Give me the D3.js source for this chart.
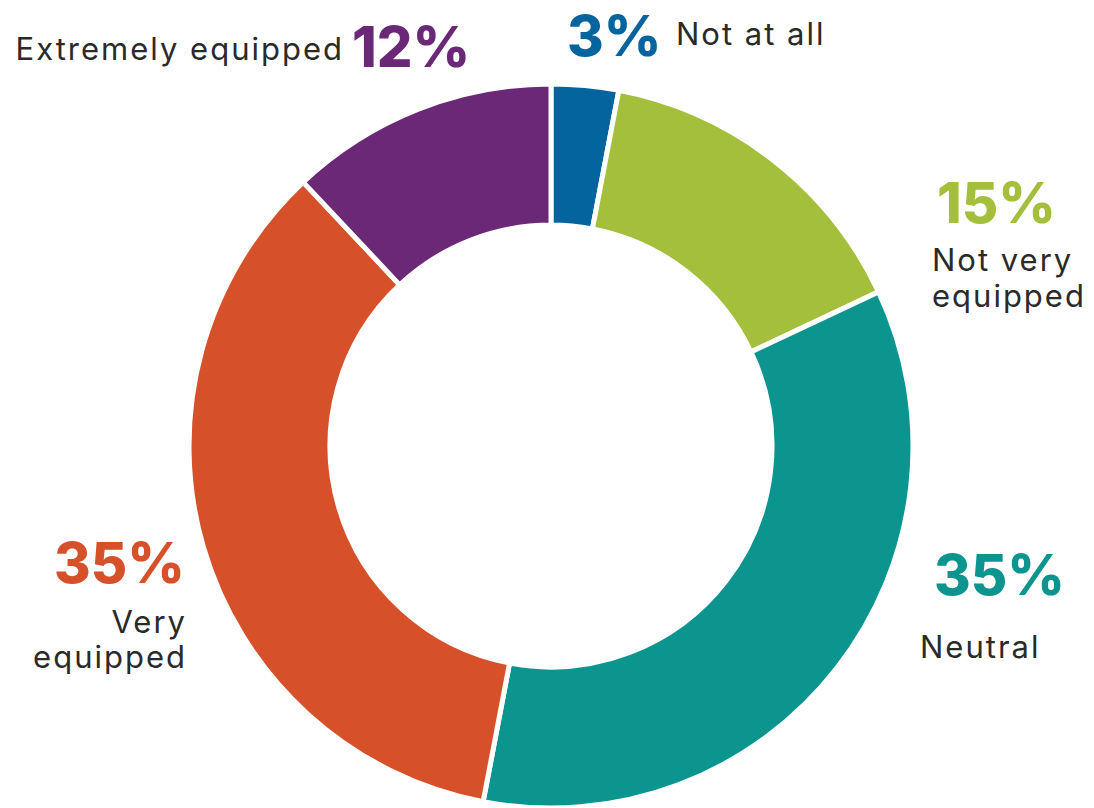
<!DOCTYPE html>
<head>
  <meta charset="utf-8">
  <title>Equipped</title>
  <script src="https://cdn.jsdelivr.net/npm/d3@7"></script>
  <style>
    body { margin: 0; background: #fff; }
    text { font-family: Inter, "Open Sans", sans-serif; }
  </style>
</head>
<body>
  <svg width="1094" height="808"></svg>

  <script>
  // data
  var categories = ["Not at all", "Not very equipped", "Neutral", "Very equipped", "Extremely equipped"];
  var values = [3, 15, 35, 35, 12];
  var colors = ["#03649e", "#a4bf3c", "#0b958e", "#d65129", "#6a2877"];

  // label layout (positions only)
  var labelLayout = [
    { px: 567, py: 56, anchor: "start", lines: ["Not at all"], lx: 676, ly: 45, step: 0 },
    { px: 937, py: 223, anchor: "start", lines: ["Not very", "equipped"], lx: 932, ly: 271, step: 36 },
    { px: 934, py: 595, anchor: "start", lines: ["Neutral"], lx: 920, ly: 658, step: 0 },
    { px: 185, py: 583, anchor: "end", lines: ["Very", "equipped"], lx: 187, ly: 633, step: 35 },
    { px: 352, py: 67, anchor: "start", lines: ["Extremely equipped"], lx: 344, ly: 60, step: 0 }
  ];

  var svg = d3.select("svg"),
      cx = 551, cy = 446,
      outer = 362, inner = 221;

  var pie = d3.pie().sort(null).value(function(d) { return d; });
  var arc = d3.arc().innerRadius(inner).outerRadius(outer);

  var g = svg.append("g").attr("transform", "translate(" + cx + "," + cy + ")");

  g.selectAll("path")
    .data(pie(values))
    .enter().append("path")
      .attr("d", arc)
      .attr("fill", function(d, i) { return colors[i]; })
      .attr("stroke", "#fff")
      .attr("stroke-width", 5);

  // percentages
  svg.selectAll("text.pct")
    .data(values)
    .enter().append("text")
      .attr("class", "pct")
      .attr("x", function(d, i) { return labelLayout[i].px; })
      .attr("y", function(d, i) { return labelLayout[i].py; })
      .attr("text-anchor", function(d, i) { return labelLayout[i].anchor; })
      .attr("font-size", 56)
      .attr("font-weight", 800)
      .attr("fill", function(d, i) { return colors[i]; })
      .text(function(d) { return d + "%"; });

  // category labels
  labelLayout.forEach(function(l, i) {
    var anchor = (i == 4) ? "end" : l.anchor;
    var t = svg.append("text")
      .attr("class", "cat")
      .attr("text-anchor", anchor)
      .attr("font-size", 31)
      .attr("letter-spacing", 2)
      .attr("fill", "#2a2a2a");
    l.lines.forEach(function(s, j) {
      t.append("tspan")
        .attr("x", l.lx)
        .attr("y", l.ly + j * l.step)
        .text(s);
    });
  });
  </script>
</body>
